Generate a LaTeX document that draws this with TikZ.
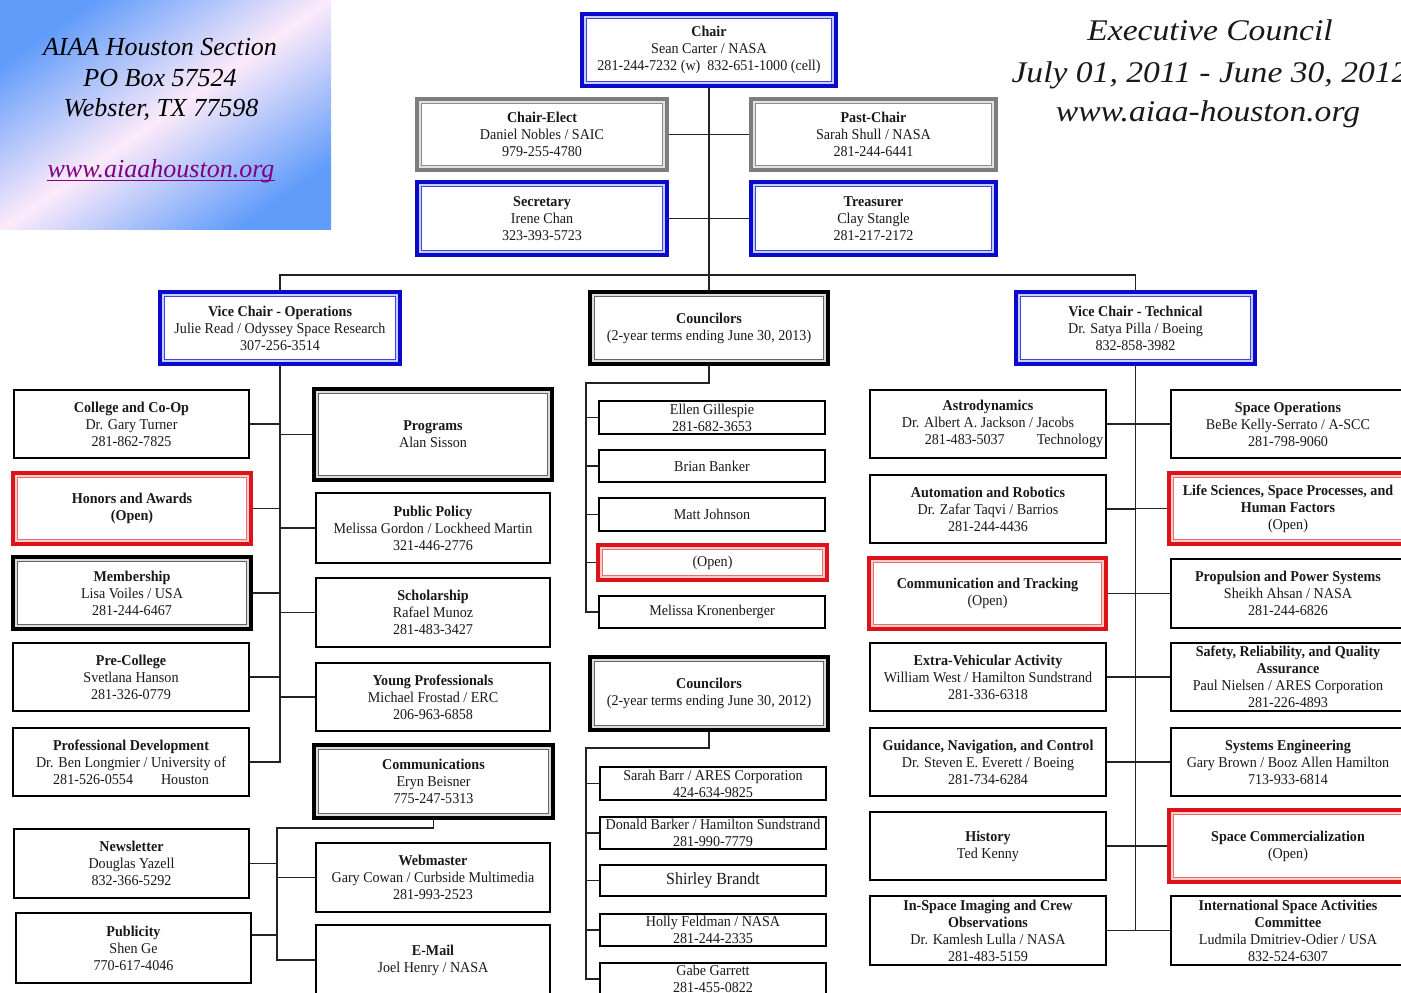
\documentclass[tikz,border=0pt]{standalone}
\usepackage{fontspec}
\setmainfont{Liberation Serif}
\newfontfamily\bxfont{Liberation Serif}[FakeStretch=0.94]
\newfontfamily\ttlfont{Liberation Serif}[FakeStretch=1.12]
\usetikzlibrary{calc}
\definecolor{gBlue}{RGB}{96,156,250}
\definecolor{gPink}{RGB}{252,234,250}
\definecolor{urlC}{RGB}{128,0,128}
\definecolor{txtC}{RGB}{25,25,25}
\definecolor{lineC}{RGB}{35,35,35}
\definecolor{ocBlue}{RGB}{10,10,205}
\definecolor{blueGap}{RGB}{200,205,250}
\definecolor{blueIn}{RGB}{60,70,225}
\definecolor{ocGray}{RGB}{125,125,125}
\definecolor{grayGap}{RGB}{225,225,225}
\definecolor{grayIn}{RGB}{140,140,140}
\definecolor{blackGap}{RGB}{220,220,220}
\definecolor{blackIn}{RGB}{100,100,100}
\definecolor{ocRed}{RGB}{220,20,25}
\definecolor{redGap}{RGB}{250,205,205}
\definecolor{redIn}{RGB}{235,110,110}
\pgfdeclarelayer{bg}
\pgfsetlayers{bg,main}
\tikzset{
  ocbase/.style={rectangle, inner sep=0pt, outer sep=0pt, align=center, fill=white,
    font={\bxfont\fontsize{15}{17}\selectfont}, text=txtC},
  plainbox/.style={ocbase, draw=black, line width=2.4pt},
  bluebox/.style={ocbase, draw=ocBlue, line width=4.5pt},
  graybox/.style={ocbase, draw=ocGray, line width=4.5pt},
  blackbox/.style={ocbase, draw=black, line width=4.5pt},
  redbox/.style={ocbase, draw=ocRed, line width=4.5pt},
  conn/.style={draw=lineC, line width=1.4pt},
  addrtext/.style={anchor=base, inner sep=0pt, font={\itshape\fontsize{26}{30}\selectfont}, text=black},
  titletext/.style={anchor=base, inner sep=0pt, font={\ttlfont\itshape\fontsize{30}{34}\selectfont}, text=txtC},
}
\newcommand\ocb[7]{%
  \pgfmathsetmacro\ocX{(#3+#5)/2}%
  \pgfmathsetmacro\ocY{(#4+#6)/2}%
  \pgfmathsetmacro\ocW{#5-#3-4}%
  \pgfmathsetmacro\ocH{#6-#4-4}%
  \node[#2, minimum width=\ocW pt, minimum height=\ocH pt] (#1) at (\ocX,\ocY) {#7};}
\newcommand\ocinner[3]{%
  \draw[#2, line width=1.5pt] ([shift={(3pt,-3pt)}]#1.north west) rectangle ([shift={(-3pt,3pt)}]#1.south east);
  \draw[#3, line width=1.5pt] ([shift={(4.5pt,-4.5pt)}]#1.north west) rectangle ([shift={(-4.5pt,4.5pt)}]#1.south east);}
\begin{document}
\begin{tikzpicture}[x=1pt,y=-1pt]
\useasboundingbox (0,0) rectangle (1401,993);
\clip (0,0) rectangle (1401,993);
\begin{pgfonlayer}{bg}
\fill[white] (0,0) rectangle (1401,993);
\end{pgfonlayer}

% address panel
\shade[top color=gBlue, bottom color=gBlue, middle color=gPink, shading angle=35] (0,0) rectangle (331,229);
\node[addrtext] (addr1) at (160,55) {AIAA Houston Section};
\node[addrtext] (addr2) at (160,86) {PO Box 57524};
\node[addrtext] (addr3) at (161,116) {Webster, TX 77598};
\node[addrtext, text=urlC] (url) at (161,177) {www.aiaahouston.org};
\draw[urlC, line width=1.4pt] ([yshift=-3.5pt]url.base west) -- ([yshift=-3.5pt]url.base east);

% title
\node[titletext] (title1) at (1210,40) {Executive Council};
\node[titletext] (title2) at (1210,82) {July 01, 2011 - June 30, 2012};
\node[titletext] (title3) at (1208,121) {www.aiaa-houston.org};

% officers
\ocb{chair}{bluebox}{580}{12}{838}{88}{\textbf{Chair}\\Sean Carter / NASA\\281-244-7232 (w)\ \ 832-651-1000 (cell)}
\ocb{chairelect}{graybox}{415}{97}{669}{172}{\textbf{Chair-Elect}\\Daniel Nobles / SAIC\\979-255-4780}
\ocb{pastchair}{graybox}{749}{97}{998}{172}{\textbf{Past-Chair}\\Sarah Shull / NASA\\281-244-6441}
\ocb{secretary}{bluebox}{415}{180}{669}{257}{\textbf{Secretary}\\Irene Chan\\323-393-5723}
\ocb{treasurer}{bluebox}{749}{180}{998}{257}{\textbf{Treasurer}\\Clay Stangle\\281-217-2172}
\ocb{vco}{bluebox}{158}{290}{402}{366}{\textbf{Vice Chair - Operations}\\Julie Read / Odyssey Space Research\\307-256-3514}
\ocb{coun1}{blackbox}{588}{290}{830}{366}{\textbf{Councilors}\\(2-year terms ending June 30, 2013)}
\ocb{vct}{bluebox}{1014}{290}{1257}{366}{\textbf{Vice Chair - Technical}\\Dr. Satya Pilla / Boeing\\832-858-3982}

% operations, left column
\ocb{college}{plainbox}{12}{388}{251}{460}{\textbf{College and Co-Op}\\Dr. Gary Turner\\281-862-7825}
\ocb{honors}{redbox}{11}{471}{253}{546}{\textbf{Honors and Awards}\\\textbf{(Open)}}
\ocb{membership}{blackbox}{11}{555}{253}{631}{\textbf{Membership}\\Lisa Voiles / USA\\281-244-6467}
\ocb{precollege}{plainbox}{11}{641}{251}{713}{\textbf{Pre-College}\\Svetlana Hanson\\281-326-0779}
\ocb{profdev}{plainbox}{11}{726}{251}{798}{\textbf{Professional Development}\\Dr. Ben Longmier / University of\\281-526-0554\hspace{28pt}Houston}
\ocb{newsletter}{plainbox}{12}{827}{251}{900}{\textbf{Newsletter}\\Douglas Yazell\\832-366-5292}
\ocb{publicity}{plainbox}{14}{911}{253}{985}{\textbf{Publicity}\\Shen Ge\\770-617-4046}

% operations, right column
\ocb{programs}{blackbox}{312}{387}{554}{482}{\textbf{Programs}\\Alan Sisson}
\ocb{publicpolicy}{plainbox}{314}{491}{552}{565}{\textbf{Public Policy}\\Melissa Gordon / Lockheed Martin\\321-446-2776}
\ocb{scholarship}{plainbox}{314}{576}{552}{649}{\textbf{Scholarship}\\Rafael Munoz\\281-483-3427}
\ocb{youngprof}{plainbox}{314}{661}{552}{733}{\textbf{Young Professionals}\\Michael Frostad / ERC\\206-963-6858}
\ocb{comms}{blackbox}{312}{743}{555}{820}{\textbf{Communications}\\Eryn Beisner\\775-247-5313}
\ocb{webmaster}{plainbox}{314}{841}{552}{914}{\textbf{Webmaster}\\Gary Cowan / Curbside Multimedia\\281-993-2523}
\ocb{email}{plainbox}{314}{923}{552}{997}{\textbf{E-Mail}\\Joel Henry / NASA}

% councilors
\ocb{ellen}{plainbox}{597}{399}{827}{436}{Ellen Gillespie\\281-682-3653}
\ocb{brian}{plainbox}{597}{448}{827}{484}{Brian Banker}
\ocb{matt}{plainbox}{597}{496}{827}{533}{Matt Johnson}
\ocb{open1}{redbox}{596}{543}{829}{582}{(Open)}
\ocb{kron}{plainbox}{597}{594}{827}{630}{Melissa Kronenberger}
\ocb{coun2}{blackbox}{588}{655}{830}{732}{\textbf{Councilors}\\(2-year terms ending June 30, 2012)}
\ocb{sarah}{plainbox}{598}{765}{828}{802}{Sarah Barr / ARES Corporation\\424-634-9825}
\ocb{donald}{plainbox}{598}{815}{828}{851}{Donald Barker / Hamilton Sundstrand\\281-990-7779}
\ocb{shirley}{plainbox}{598}{863}{828}{898}{\fontsize{17}{20}\selectfont Shirley Brandt}
\ocb{holly}{plainbox}{598}{912}{828}{948}{Holly Feldman / NASA\\281-244-2335}
\ocb{gabe}{plainbox}{598}{961}{828}{997}{Gabe Garrett\\281-455-0822}

% technical, left column
\ocb{astro}{plainbox}{868}{388}{1108}{460}{\textbf{Astrodynamics}\\Dr. Albert A. Jackson / Jacobs\\\hspace*{52pt}281-483-5037\hspace{32pt}Technology}
\ocb{autom}{plainbox}{868}{473}{1108}{545}{\textbf{Automation and Robotics}\\Dr. Zafar Taqvi / Barrios\\281-244-4436}
\ocb{commtrack}{redbox}{867}{556}{1108}{631}{\textbf{Communication and Tracking}\\(Open)}
\ocb{eva}{plainbox}{868}{641}{1108}{713}{\textbf{Extra-Vehicular Activity}\\William West / Hamilton Sundstrand\\281-336-6318}
\ocb{gnc}{plainbox}{868}{726}{1108}{798}{\textbf{Guidance, Navigation, and Control}\\Dr. Steven E. Everett / Boeing\\281-734-6284}
\ocb{history}{plainbox}{868}{810}{1108}{882}{\textbf{History}\\Ted Kenny}
\ocb{inspace}{plainbox}{868}{894}{1108}{967}{\textbf{In-Space Imaging and Crew}\\\textbf{Observations}\\Dr. Kamlesh Lulla / NASA\\281-483-5159}

% technical, right column
\ocb{spaceops}{plainbox}{1169}{388}{1407}{460}{\textbf{Space Operations}\\BeBe Kelly-Serrato / A-SCC\\281-798-9060}
\ocb{lifesci}{redbox}{1167}{471}{1409}{546}{\textbf{Life Sciences, Space Processes, and}\\\textbf{Human Factors}\\(Open)}
\ocb{propulsion}{plainbox}{1169}{557}{1407}{630}{\textbf{Propulsion and Power Systems}\\Sheikh Ahsan / NASA\\281-244-6826}
\ocb{safety}{plainbox}{1169}{641}{1407}{713}{\textbf{Safety, Reliability, and Quality}\\\textbf{Assurance}\\Paul Nielsen / ARES Corporation\\281-226-4893}
\ocb{syseng}{plainbox}{1169}{726}{1407}{798}{\textbf{Systems Engineering}\\Gary Brown / Booz Allen Hamilton\\713-933-6814}
\ocb{spacecomm}{redbox}{1167}{808}{1409}{884}{\textbf{Space Commercialization}\\(Open)}
\ocb{intl}{plainbox}{1169}{894}{1407}{967}{\textbf{International Space Activities}\\\textbf{Committee}\\Ludmila Dmitriev-Odier / USA\\832-524-6307}

% inner lines of the double borders
\foreach \n in {chair,secretary,treasurer,vco,vct} {\ocinner{\n}{blueGap}{blueIn}}
\foreach \n in {chairelect,pastchair} {\ocinner{\n}{grayGap}{grayIn}}
\foreach \n in {coun1,coun2,membership,programs,comms} {\ocinner{\n}{blackGap}{blackIn}}
\foreach \n in {honors,open1,commtrack,lifesci,spacecomm} {\ocinner{\n}{redGap}{redIn}}

% connectors
\coordinate (busY) at (709,275);
\coordinate (cturn) at (277,828);
\coordinate (m1) at (586,383);
\coordinate (m2) at (586,748);
\begin{pgfonlayer}{bg}
\draw[conn] (chair.south) -- (coun1.north);
\draw[conn] (vco.north) -- (vco.north |- busY) -- (vct.north |- busY) -- (vct.north);
\draw[conn] (chairelect.east) -- (pastchair.west);
\draw[conn] (secretary.east) -- (treasurer.west);
\draw[conn] (vco.south) -- (vco.south |- profdev.east) -- (profdev.east);
\foreach \n in {college,honors,membership,precollege} {\draw[conn] (\n.east) -- (\n.east -| vco.south);}
\foreach \n in {programs,publicpolicy,scholarship,youngprof} {\draw[conn] (\n.west) -- (\n.west -| vco.south);}
\draw[conn] (comms.south) |- (cturn) -- (cturn |- email.west) -- (email.west);
\draw[conn] (newsletter.east) -- (newsletter.east -| cturn);
\draw[conn] ([yshift=13pt]publicity.east) -- ([yshift=13pt]publicity.east -| cturn);
\draw[conn] (webmaster.west) -- (webmaster.west -| cturn);
\draw[conn] (coun1.south) |- (m1) -- (m1 |- kron.west) -- (kron.west);
\foreach \n in {ellen,brian,matt,open1} {\draw[conn] (\n.west) -- (\n.west -| m1);}
\draw[conn] (coun2.south) |- (m2) -- (m2 |- gabe.west) -- (gabe.west);
\foreach \n in {sarah,donald,shirley,holly} {\draw[conn] (\n.west) -- (\n.west -| m2);}
\draw[conn] (vct.south) -- (vct.south |- inspace.east) -- (inspace.east);
\foreach \n in {astro,autom,commtrack,eva,gnc,history} {\draw[conn] (\n.east) -- (\n.east -| vct.south);}
\foreach \n in {spaceops,lifesci,propulsion,safety,syseng,spacecomm,intl} {\draw[conn] (\n.west) -- (\n.west -| vct.south);}
\end{pgfonlayer}
\end{tikzpicture}
\end{document}
